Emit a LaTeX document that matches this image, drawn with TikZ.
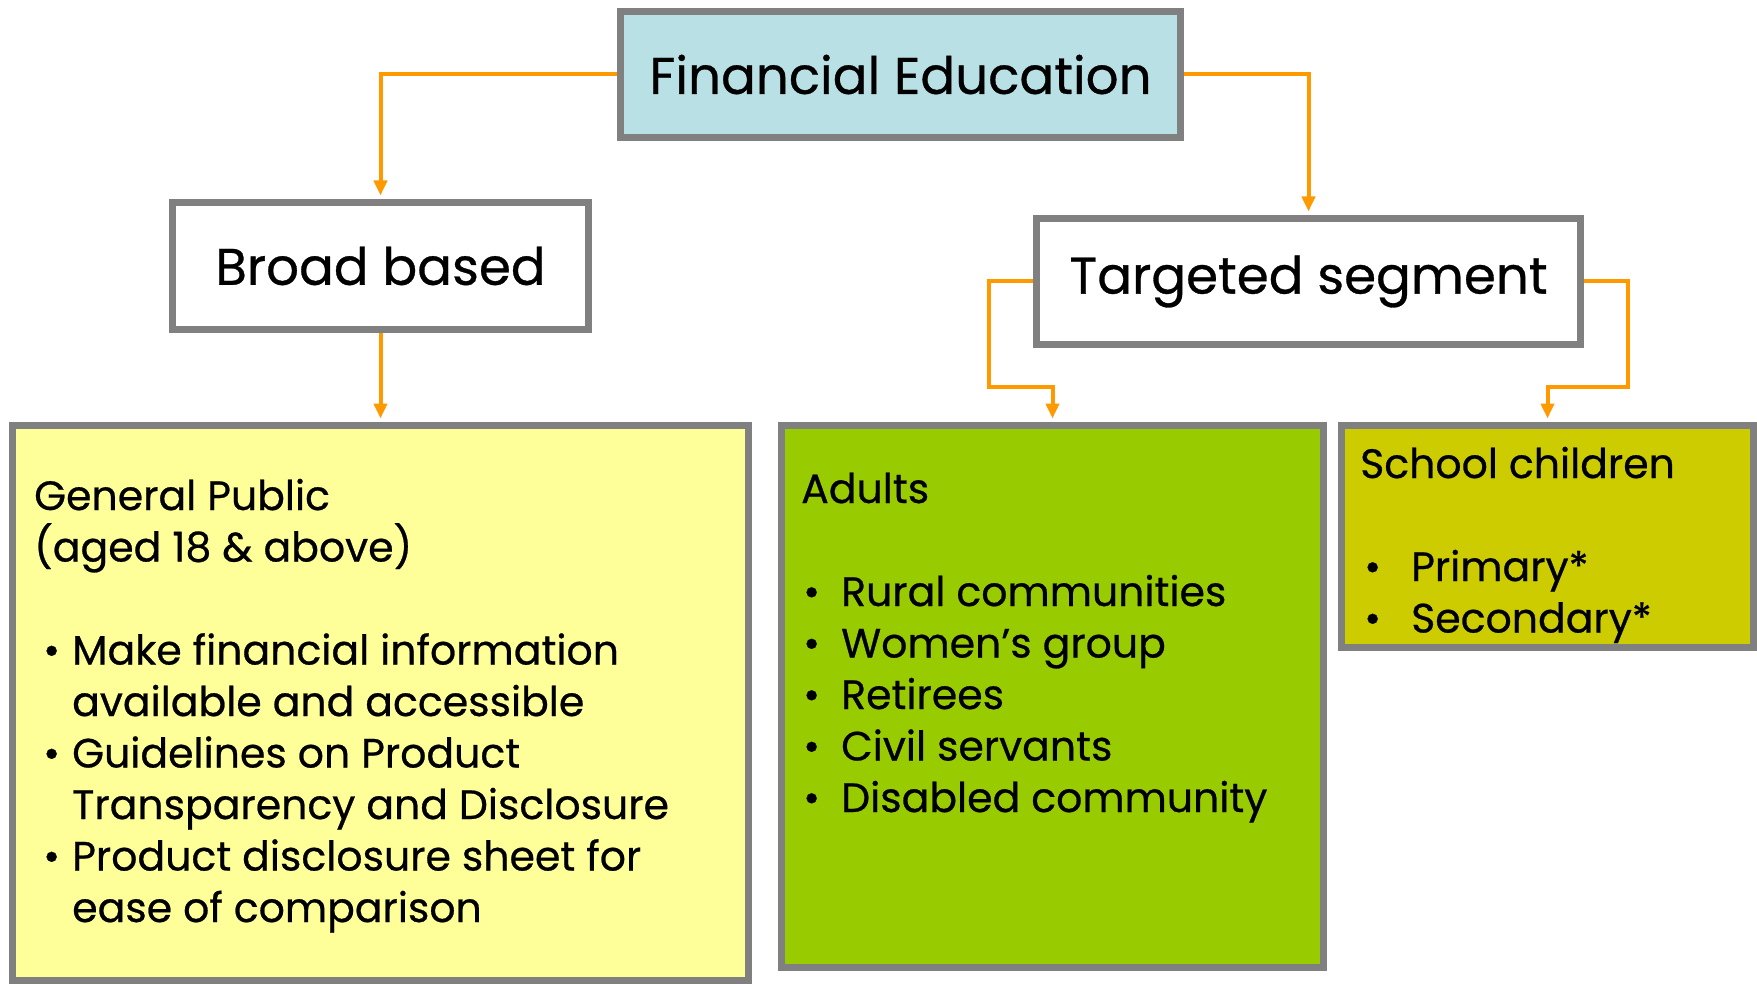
\documentclass[tikz,border=0pt]{standalone}
\usepackage{fontspec}
\setmainfont{Poppins}[FakeBold=0.6]
\usetikzlibrary{arrows.meta}

\definecolor{frame}{HTML}{808080}
\definecolor{linkorange}{HTML}{FF9900}
\definecolor{headblue}{HTML}{B9E0E4}
\definecolor{paleyellow}{HTML}{FFFF99}
\definecolor{leafgreen}{HTML}{99CC00}
\definecolor{olive}{HTML}{CCCC00}

\newcommand{\headfont}{\fontsize{51.5}{60}\selectfont}
\newcommand{\bodyfont}{\fontsize{41}{51.5}\selectfont}
\newcommand{\bulletline}[3]{\hspace*{#1}\makebox[#2][l]{\textbullet}#3}

\begin{document}
\begin{tikzpicture}[x=1pt,y=-1pt,
  panel/.style={draw=frame, line width=7pt, inner sep=0pt, rectangle},
  link/.style={draw=linkorange, line width=4pt,
    -{Triangle[width=13pt,length=15pt]}, shorten >=3.5pt},
  blocktext/.style={anchor=base west, inner sep=0pt}]
\useasboundingbox (0,0) rectangle (1757,984);

% boxes
\node[panel, fill=headblue, minimum width=560pt, minimum height=126pt]
  (fe) at (900.5,74.5) {\headfont Financial Education};
\node[panel, fill=white, minimum width=416pt, minimum height=127pt]
  (bb) at (380.5,266) {\headfont Broad based};
\node[panel, fill=white, minimum width=544pt, minimum height=126pt]
  (ts) at (1308.5,281.5) {\headfont Targeted segment};
\node[panel, fill=paleyellow, minimum width=736pt, minimum height=555pt]
  (gp) at (380.5,703) {};
\node[panel, fill=leafgreen, minimum width=542pt, minimum height=542pt]
  (ad) at (1052.5,696.5) {};
\node[panel, fill=olive, minimum width=412pt, minimum height=222pt]
  (sc) at (1547.5,536.5) {};

% bends of the elbow connectors
\coordinate (lbend) at (989,387);
\coordinate (rbend) at (1628,387);

% connectors
\draw[link] (fe.west) -| (bb.north);
\draw[link] (fe.east) -| (ts.north);
\draw[link] (bb.south) -- (gp.north);
\draw[link] (ts.west) -| (lbend) -| (ad.north);
\draw[link] (ts.east) -| (rbend) -| (sc.north);

% box contents
\node[blocktext] (gptext) at (34,510) {\parbox[t]{720pt}{\bodyfont
  General Public\\
  (aged 18 \& above)\\[51.5pt]
  \bulletline{9pt}{29pt}{Make financial information}\\
  \hspace*{38pt}available and accessible\\
  \bulletline{9pt}{29pt}{Guidelines on Product}\\
  \hspace*{38pt}Transparency and Disclosure\\
  \bulletline{9pt}{29pt}{Product disclosure sheet for}\\
  \hspace*{38pt}ease of comparison}};

\node[blocktext] (adtext) at (801,503) {\parbox[t]{520pt}{\bodyfont
  Adults\\[51.5pt]
  \bulletline{2pt}{38pt}{Rural communities}\\
  \bulletline{2pt}{38pt}{Women’s group}\\
  \bulletline{2pt}{38pt}{Retirees}\\
  \bulletline{2pt}{38pt}{Civil servants}\\
  \bulletline{2pt}{38pt}{Disabled community}}};

\node[blocktext] (sctext) at (1360,478) {\parbox[t]{400pt}{\bodyfont
  School children\\[51.5pt]
  \bulletline{4pt}{47pt}{Primary*}\\
  \bulletline{4pt}{47pt}{Secondary*}}};
\end{tikzpicture}
\end{document}
